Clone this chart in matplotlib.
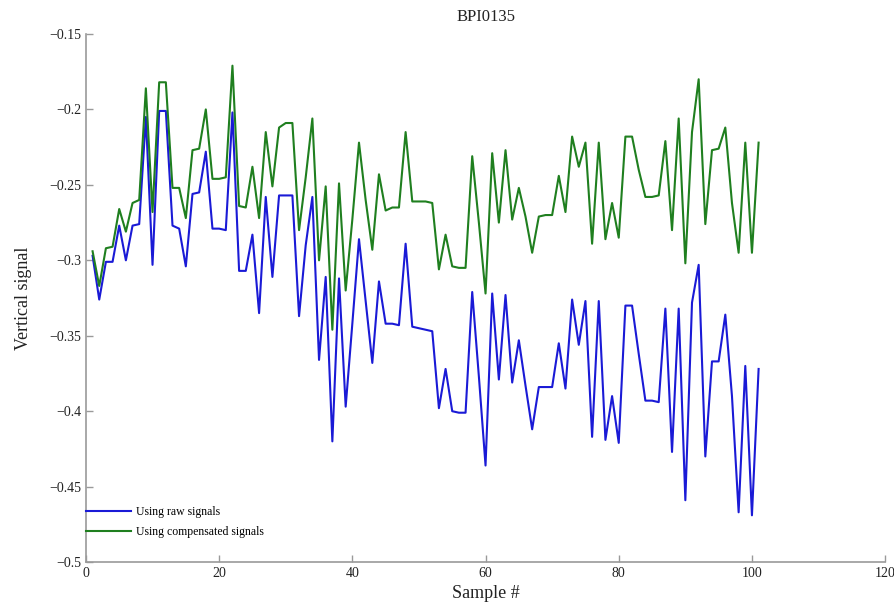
import matplotlib
matplotlib.use('Agg')           # no display available
import matplotlib.pyplot as plt
from matplotlib.ticker import FuncFormatter
import numpy as np

# ── DATA ─────────────────────────────────────────────────────────────────────
samples = np.arange(1, 102)

raw_signal = [
    -0.297, -0.326, -0.301, -0.301, -0.277, -0.300, -0.277, -0.276, -0.205, -0.303,
    -0.201, -0.201, -0.277, -0.279, -0.304, -0.256, -0.255, -0.228, -0.279, -0.279,
    -0.280, -0.202, -0.307, -0.307, -0.283, -0.335, -0.258, -0.311, -0.257, -0.257,
    -0.257, -0.337, -0.290, -0.258, -0.366, -0.311, -0.420, -0.312, -0.397, -0.342,
    -0.286, -0.327, -0.368, -0.314, -0.342, -0.342, -0.343, -0.289, -0.344, -0.345,
    -0.346, -0.347, -0.398, -0.372, -0.400, -0.401, -0.401, -0.321, -0.377, -0.436,
    -0.322, -0.379, -0.323, -0.381, -0.353, -0.383, -0.412, -0.384, -0.384, -0.384,
    -0.355, -0.385, -0.326, -0.356, -0.327, -0.417, -0.327, -0.419, -0.390, -0.421,
    -0.330, -0.330, -0.362, -0.393, -0.393, -0.394, -0.332, -0.427, -0.332, -0.459,
    -0.328, -0.303, -0.430, -0.367, -0.367, -0.336, -0.390, -0.467, -0.370, -0.469,
    -0.372,
]

compensated_signal = [
    -0.294, -0.317, -0.292, -0.291, -0.266, -0.281, -0.262, -0.260, -0.186, -0.268,
    -0.182, -0.182, -0.252, -0.252, -0.272, -0.227, -0.226, -0.200, -0.246, -0.246,
    -0.245, -0.171, -0.264, -0.265, -0.238, -0.272, -0.215, -0.251, -0.212, -0.209,
    -0.209, -0.280, -0.245, -0.206, -0.300, -0.251, -0.346, -0.249, -0.320, -0.273,
    -0.222, -0.260, -0.293, -0.243, -0.267, -0.265, -0.265, -0.215, -0.261, -0.261,
    -0.261, -0.262, -0.306, -0.283, -0.304, -0.305, -0.305, -0.231, -0.275, -0.322,
    -0.229, -0.275, -0.227, -0.273, -0.252, -0.271, -0.295, -0.271, -0.270, -0.270,
    -0.244, -0.268, -0.218, -0.238, -0.222, -0.289, -0.222, -0.286, -0.262, -0.285,
    -0.218, -0.218, -0.240, -0.258, -0.258, -0.257, -0.221, -0.280, -0.206, -0.302,
    -0.215, -0.180, -0.276, -0.227, -0.226, -0.212, -0.262, -0.295, -0.222, -0.295,
    -0.222,
]

x_ticks = [0, 20, 40, 60, 80, 100, 120]
y_ticks = [-0.5, -0.45, -0.4, -0.35, -0.3, -0.25, -0.2, -0.15]

plt.rcParams['font.family'] = ['Liberation Serif', 'DejaVu Serif']

# ── FIGURE ───────────────────────────────────────────────────────────────────
fig = plt.figure(figsize=(8.95, 6.07), dpi=100)
ax = fig.add_axes([0.096, 0.074, 0.893, 0.870])

ax.plot(samples, raw_signal, color='#1a1ad6', linewidth=1.5,
        label='Using raw signals')
ax.plot(samples, compensated_signal, color='#1f7f1f', linewidth=1.5,
        label='Using compensated signals')

ax.set_xlim(0, 120)
ax.set_ylim(-0.5, -0.15)
ax.set_xticks(x_ticks)
ax.set_yticks(y_ticks)
ax.yaxis.set_major_formatter(FuncFormatter(lambda v, _: f"{v:g}".replace('-', '\u2212')))

# MATLAB-like axes: only left/bottom, grey, ticks pointing in
for side in ('top', 'right'):
    ax.spines[side].set_visible(False)
for side in ('left', 'bottom'):
    ax.spines[side].set_color('#9a9a9a')
    ax.spines[side].set_linewidth(1.2)
ax.tick_params(direction='in', length=5, width=1, color='#9a9a9a',
               labelsize=10, labelcolor='#222222')

ax.set_title("BPI0135", fontsize=12, color='#222222', pad=9)
ax.set_xlabel("Sample #", fontsize=13, color='#222222', labelpad=4)
ax.set_ylabel("Vertical signal", fontsize=13, color='#222222', labelpad=12)

ax.legend(loc='lower left', bbox_to_anchor=(0.0, 0.045), frameon=False,
          fontsize=8.5, handlelength=3.8, handletextpad=0.4,
          labelspacing=0.7, borderpad=0, borderaxespad=0)

plt.savefig("out.png", dpi=100)
plt.close()
